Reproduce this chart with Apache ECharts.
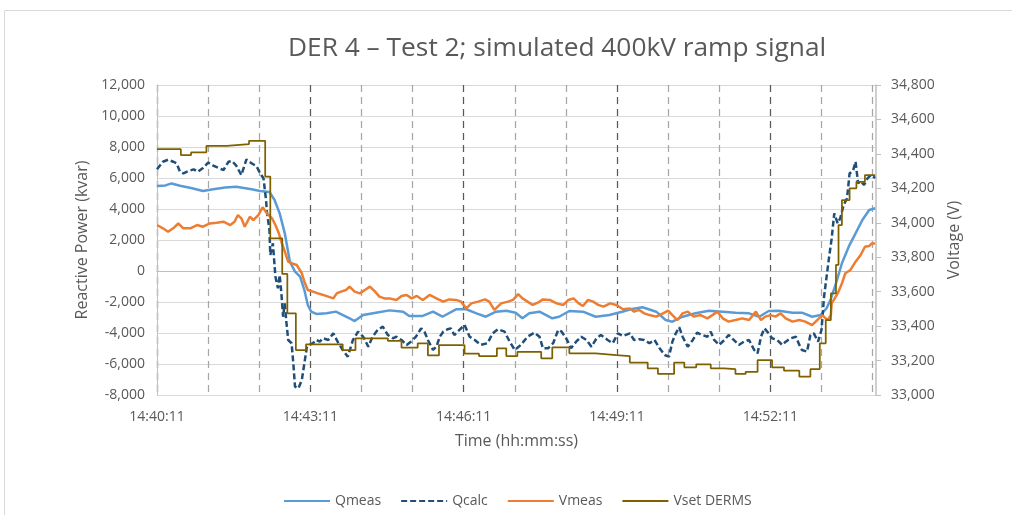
<!DOCTYPE html>
<html>
<head>
<meta charset="utf-8">
<title>DER 4 – Test 2</title>
<script src="https://cdn.jsdelivr.net/npm/echarts@6/dist/echarts.min.js"></script>
<style>
  html, body { margin: 0; padding: 0; background: #fff; }
  #chart { width: 1012px; height: 515px; }
</style>
</head>
<body>
<div id="chart"></div>
<script>
// time is seconds after 14:40:11
const START = [14, 40, 11];
const T_MAX = 844;

const TITLE = 'DER 4 – Test 2; simulated 400kV ramp signal';
const SERIES_NAMES = ['Qmeas', 'Qcalc', 'Vmeas', 'Vset DERMS'];

// reactive power, kvar (left axis)
const qmeas = [
  [0, 5480], [10, 5520], [17, 5650], [27, 5500], [40, 5350], [54, 5160], [66, 5270], [80, 5380],
  [93, 5440], [111, 5270], [121, 5160], [132, 5100], [138, 4580], [144, 3720], [150, 2430],
  [156, 600], [162, -40], [168, -370], [173, -1230], [177, -2190], [181, -2620], [187, -2770],
  [199, -2730], [210, -2620], [226, -3050], [232, -3230], [242, -2840], [257, -2690], [273, -2540],
  [289, -2625], [296, -2900], [312, -2900], [324, -2625], [335, -2950], [351, -2470], [363, -2470],
  [375, -2730], [386, -2950], [398, -2625], [410, -2560], [421, -2690], [429, -3050], [437, -2730],
  [449, -2625], [464, -3050], [472, -2950], [484, -2580], [500, -2625], [515, -2950], [531, -2840],
  [546, -2625], [556, -2470], [570, -2340], [586, -2625], [597, -3160], [605, -3270], [617, -2950],
  [632, -2730], [648, -2560], [664, -2625], [679, -2690], [695, -2730], [707, -2950], [718, -2580],
  [730, -2560], [746, -2690], [757, -2690], [769, -2950], [779, -2840], [786, -2400], [791, -1800],
  [797, -800], [804, 500], [812, 1570], [820, 2430], [828, 3290], [836, 3935], [843, 4045]
];

const qcalc = [
  [0, 6560], [7, 7050], [13, 7180], [19, 7050], [23, 6950], [27, 6400], [31, 6300], [37, 6450],
  [43, 6560], [48, 6400], [54, 6650], [60, 6990], [66, 6800], [72, 6650], [78, 6515], [84, 7050],
  [88, 7100], [93, 6800], [99, 6190], [105, 7200], [111, 6950], [117, 6750], [121, 6300],
  [125, 5980], [128, 4580], [129, 3825], [132, 2645], [133, 1030], [136, 1785], [137, 1100],
  [139, -370], [142, -1115], [144, -260], [146, -1440], [148, -2950], [150, -2080], [152, -3375],
  [154, -4450], [158, -4660], [160, -5955], [162, -7460], [166, -7570], [170, -7030], [173, -5955],
  [176, -4880], [179, -4770], [183, -4660], [187, -4450], [191, -4560], [195, -4340], [201, -4450],
  [207, -4020], [212, -4560], [218, -5095], [224, -5525], [230, -4450], [236, -3915], [242, -4240],
  [248, -4880], [253, -4240], [259, -3805], [265, -3590], [271, -4130], [277, -4340], [281, -4240],
  [287, -4450], [293, -4770], [298, -4560], [304, -4240], [310, -3700], [314, -3915], [318, -4450],
  [324, -5095], [328, -4880], [332, -4240], [336, -3915], [341, -3760], [345, -3700], [349, -4130],
  [355, -3805], [361, -3480], [367, -4240], [373, -4450], [380, -4770], [388, -4660], [394, -4020],
  [400, -3760], [408, -3915], [414, -4560], [420, -5095], [427, -4770], [435, -4240], [443, -3980],
  [449, -4240], [453, -4985], [459, -4985], [465, -4660], [471, -3805], [475, -3915], [481, -4410],
  [486, -4985], [492, -4560], [498, -4240], [504, -4450], [510, -4880], [516, -4340], [521, -4130],
  [529, -4450], [535, -4660], [541, -4020], [547, -4190], [555, -4020], [560, -4450], [566, -4400],
  [572, -4450], [578, -4660], [584, -4450], [590, -4985], [596, -5420], [601, -5525], [605, -4560],
  [609, -4020], [613, -3630], [617, -4240], [623, -4880], [629, -4450], [634, -3980], [640, -4130],
  [646, -4240], [650, -3915], [654, -4450], [660, -4770], [666, -4450], [671, -4130], [677, -4450],
  [683, -4770], [689, -4560], [695, -4450], [701, -5095], [705, -5310], [709, -4240], [713, -3700],
  [718, -4020], [722, -4340], [728, -4450], [734, -4770], [738, -4560], [744, -4340], [750, -4240],
  [754, -4770], [757, -5095], [763, -5200], [767, -4130], [771, -4020], [776, -4560], [780, -3805],
  [783, -1660], [785, -800], [789, 920], [792, 2110], [795, 3720], [799, 3075], [802, 3400],
  [806, 4260], [810, 4690], [813, 6300], [817, 6450], [820, 7050], [823, 5650], [826, 5800],
  [830, 5550], [834, 5980], [838, 6190], [843, 6000]
];

// voltage, V (right axis)
const vmeas = [
  [0, 33987], [7, 33968], [13, 33948], [19, 33968], [25, 33996], [31, 33968], [39, 33968],
  [47, 33987], [54, 33977], [62, 33996], [70, 34000], [78, 34006], [86, 33987], [91, 34006],
  [95, 34045], [99, 34026], [103, 33977], [109, 34035], [113, 34016], [119, 34045], [124, 34090],
  [129, 34055], [135, 34026], [139, 33987], [143, 33939], [146, 33890], [150, 33832], [154, 33774],
  [158, 33765], [164, 33755], [170, 33707], [173, 33658], [177, 33610], [183, 33600], [189, 33590],
  [195, 33581], [201, 33571], [207, 33561], [211, 33590], [216, 33600], [222, 33610], [226, 33629],
  [232, 33600], [238, 33590], [244, 33610], [250, 33629], [256, 33600], [261, 33571], [267, 33561],
  [273, 33561], [281, 33552], [287, 33575], [293, 33581], [299, 33561], [305, 33575], [312, 33552],
  [320, 33581], [328, 33561], [336, 33542], [343, 33555], [351, 33552], [357, 33542], [363, 33503],
  [369, 33532], [377, 33542], [385, 33555], [390, 33542], [396, 33494], [404, 33532], [412, 33542],
  [418, 33552], [424, 33586], [429, 33561], [435, 33542], [441, 33523], [447, 33536], [453, 33555],
  [461, 33552], [469, 33532], [477, 33523], [483, 33552], [489, 33561], [495, 33532], [500, 33517],
  [506, 33552], [512, 33542], [518, 33523], [524, 33513], [532, 33532], [539, 33523], [547, 33498],
  [555, 33503], [560, 33484], [566, 33494], [572, 33474], [578, 33464], [586, 33455], [594, 33474],
  [600, 33490], [605, 33464], [611, 33435], [617, 33474], [623, 33484], [630, 33455], [638, 33464],
  [646, 33445], [652, 33464], [658, 33484], [664, 33445], [671, 33426], [679, 33435], [687, 33445],
  [695, 33435], [703, 33484], [709, 33435], [714, 33455], [720, 33464], [726, 33455], [732, 33474],
  [738, 33445], [746, 33426], [754, 33435], [761, 33426], [769, 33406], [775, 33435], [781, 33464],
  [787, 33435], [791, 33464], [792, 33532], [799, 33590], [804, 33648], [808, 33707], [814, 33726],
  [820, 33774], [826, 33813], [831, 33861], [836, 33865], [839, 33880], [843, 33880]
];

// set point steps: value holds until the next change
const vset = [
  [0, 34427], [28, 34393], [40, 34409], [58, 34446], [82, 34457], [108, 34476], [127, 34268],
  [133, 33910], [147, 33703], [153, 33474], [163, 33261], [175, 33294], [218, 33261], [233, 33329],
  [271, 33315], [287, 33275], [306, 33300], [318, 33230], [331, 33290], [361, 33240], [378, 33226],
  [399, 33271], [410, 33226], [423, 33251], [451, 33213], [464, 33277], [484, 33242], [515, 33232],
  [539, 33226], [555, 33188], [576, 33155], [588, 33122], [607, 33188], [619, 33161], [633, 33178],
  [650, 33155], [666, 33150], [679, 33122], [691, 33135], [705, 33203], [722, 33161], [736, 33141],
  [754, 33106], [767, 33150], [778, 33300], [785, 33435], [791, 33590], [797, 33755], [800, 33987],
  [804, 34132], [813, 34200], [821, 34238], [831, 34277], [843, 34277]
];

const FONT = '"Open Sans", sans-serif';
const TEXT = '#595959';

function timeLabel(sec) {
  let s = START[0] * 3600 + START[1] * 60 + START[2] + Math.round(sec);
  const hh = Math.floor(s / 3600);
  const mm = Math.floor((s % 3600) / 60);
  const ss = s % 60;
  const pad = (n) => String(n).padStart(2, '0');
  return `${pad(hh)}:${pad(mm)}:${pad(ss)}`;
}

function withCommas(v) {
  return Number(v).toLocaleString('en-US');
}

const chart = echarts.init(document.getElementById('chart'), null, { renderer: 'canvas' });

chart.setOption({
  animation: false,
  backgroundColor: '#fff',
  textStyle: { fontFamily: FONT },
  graphic: [
    {
      type: 'rect',
      shape: { x: 4.5, y: 10.5, width: 1200, height: 700 },
      style: { fill: 'none', stroke: '#d9d9d9', lineWidth: 1 },
      silent: true
    }
  ],
  title: {
    text: TITLE,
    left: 283,
    top: 31,
    textStyle: { fontFamily: FONT, fontSize: 26.3, fontWeight: 'normal', color: TEXT }
  },
  legend: {
    data: SERIES_NAMES,
    left: 278,
    top: 489,
    itemWidth: 46,
    itemHeight: 10,
    itemGap: 19,
    itemStyle: { opacity: 0 },
    textStyle: { fontFamily: FONT, fontSize: 14, color: TEXT }
  },
  grid: { left: 157, right: 136, top: 85, bottom: 120 },
  xAxis: {
    type: 'value',
    min: 0,
    max: T_MAX,
    interval: 180,
    name: 'Time (hh:mm:ss)',
    nameLocation: 'middle',
    nameGap: 38,
    nameTextStyle: { fontFamily: FONT, fontSize: 16, color: TEXT },
    axisLine: { show: true, lineStyle: { color: '#bfbfbf', width: 1 } },
    axisTick: { show: false },
    axisLabel: {
      fontFamily: FONT,
      fontSize: 14,
      color: TEXT,
      margin: 15,
      showMaxLabel: false,
      formatter: (v) => (v % 180 === 0 ? timeLabel(v) : '')
    },
    splitLine: {
      show: true,
      showMaxLine: false,
      lineStyle: { color: '#595959', type: [7, 5], width: 1.25 }
    },
    minorTick: { show: false, splitNumber: 3 },
    minorSplitLine: {
      show: true,
      lineStyle: { color: '#a6a6a6', type: [7, 5], width: 1.25 }
    }
  },
  yAxis: [
    {
      type: 'value',
      min: -8000,
      max: 12000,
      interval: 2000,
      name: 'Reactive Power (kvar)',
      nameLocation: 'middle',
      nameGap: 62,
      nameTextStyle: { fontFamily: FONT, fontSize: 16, color: TEXT },
      axisLine: { show: true, lineStyle: { color: '#bfbfbf', width: 1 } },
      axisTick: { show: false },
      axisLabel: { fontFamily: FONT, fontSize: 14, color: TEXT, margin: 12, formatter: withCommas },
      splitLine: { show: true, lineStyle: { color: '#d9d9d9', width: 1 } }
    },
    {
      type: 'value',
      position: 'right',
      min: 33000,
      max: 34800,
      interval: 200,
      name: 'Voltage (V)',
      nameLocation: 'middle',
      nameGap: 70,
      nameTextStyle: { fontFamily: FONT, fontSize: 16, color: TEXT },
      axisLine: { show: true, lineStyle: { color: '#bfbfbf', width: 1.5 } },
      axisTick: { show: true, inside: false, length: 5, lineStyle: { color: '#bfbfbf' } },
      axisLabel: { fontFamily: FONT, fontSize: 14, color: TEXT, margin: 15, formatter: withCommas },
      splitLine: { show: false }
    }
  ],
  series: [
    {
      name: 'Qmeas',
      type: 'line',
      yAxisIndex: 0,
      data: qmeas,
      symbol: 'none',
      lineStyle: { color: '#5b9bd5', width: 2.5 },
      itemStyle: { color: '#5b9bd5' }
    },
    {
      name: 'Qcalc',
      type: 'line',
      yAxisIndex: 0,
      data: qcalc,
      symbol: 'none',
      lineStyle: { color: '#1f4e79', width: 2.5, type: [6, 3] },
      itemStyle: { color: '#1f4e79' }
    },
    {
      name: 'Vmeas',
      type: 'line',
      yAxisIndex: 1,
      data: vmeas,
      symbol: 'none',
      lineStyle: { color: '#ed7d31', width: 2.5 },
      itemStyle: { color: '#ed7d31' }
    },
    {
      name: 'Vset DERMS',
      type: 'line',
      yAxisIndex: 1,
      step: 'end',
      data: vset,
      symbol: 'none',
      lineStyle: { color: '#7f6000', width: 1.75 },
      itemStyle: { color: '#7f6000' }
    }
  ]
});
</script>
</body>
</html>
